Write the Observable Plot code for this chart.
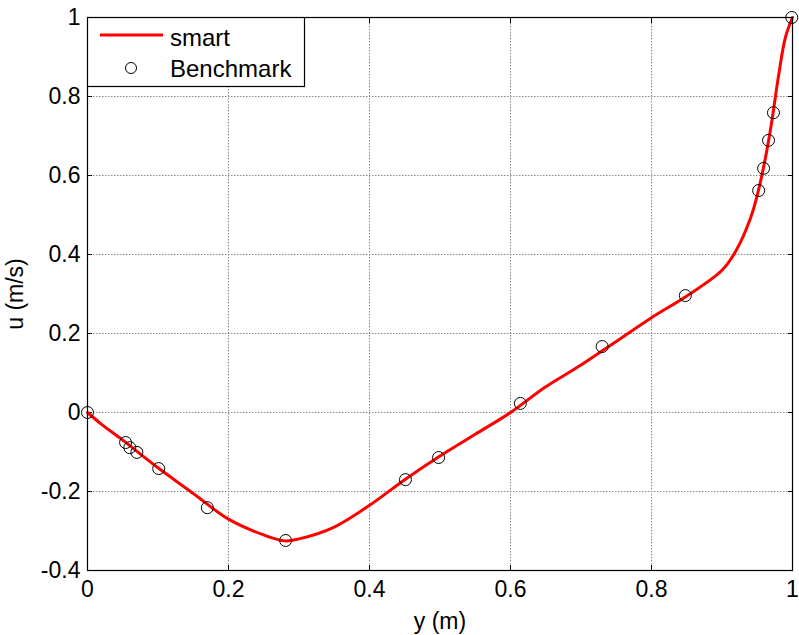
<!DOCTYPE html>
<html>
<head>
<meta charset="utf-8">
<script src="https://cdn.jsdelivr.net/npm/d3@7"></script>
<script src="https://cdn.jsdelivr.net/npm/@observablehq/plot@0.6"></script>
<style>
  html, body { margin: 0; padding: 0; background: #fff; }
  #wrap { position: relative; width: 799px; height: 635px; font-family: "Liberation Sans", Arial, sans-serif; }
  #legend { position: absolute; left: 87px; top: 17px; }
</style>
</head>
<body>
<div id="wrap"></div>
<script>
// Smart solution (red line)
const lineY = [0, 0.02, 0.05, 0.1, 0.15, 0.2, 0.25, 0.28, 0.3, 0.35, 0.4, 0.45, 0.5, 0.55, 0.6, 0.65, 0.7, 0.75, 0.8, 0.85, 0.9, 0.92, 0.94, 0.95, 0.96, 0.97, 0.98, 0.99, 1.0];
const lineU = [0, -0.03, -0.07, -0.14, -0.205, -0.27, -0.31, -0.325, -0.32, -0.29, -0.235, -0.17, -0.11, -0.055, 0.0, 0.065, 0.12, 0.18, 0.24, 0.295, 0.36, 0.41, 0.49, 0.55, 0.63, 0.73, 0.85, 0.95, 1.0];
// Benchmark (circles)
const benchY = [0, 0.054, 0.060, 0.070, 0.101, 0.170, 0.281, 0.451, 0.498, 0.614, 0.730, 0.848, 0.952, 0.959, 0.966, 0.973, 0.999];
const benchU = [0, -0.076, -0.089, -0.101, -0.142, -0.241, -0.324, -0.170, -0.114, 0.023, 0.167, 0.296, 0.562, 0.618, 0.689, 0.759, 1.0];
const xTicks = [0, 0.2, 0.4, 0.6, 0.8, 1];
const yTicks = [-0.4, -0.2, 0, 0.2, 0.4, 0.6, 0.8, 1];
const seriesNames = ["smart", "Benchmark"];

const lineData = lineY.map((y, i) => ({y, u: lineU[i]}));
const benchData = benchY.map((y, i) => ({y, u: benchU[i]}));
const fmt = d => String(+d.toFixed(1));

const chart = Plot.plot({
  width: 799,
  height: 635,
  marginLeft: 87,
  marginRight: 7,
  marginTop: 17,
  marginBottom: 65,
  style: {fontFamily: '"Liberation Sans", Arial, sans-serif', fontSize: "23px", color: "#000", background: "#fff"},
  x: {domain: [0, 1]},
  y: {domain: [-0.4, 1]},
  marks: [
    Plot.gridX(xTicks, {stroke: "#888", strokeOpacity: 1, strokeDasharray: "1.5,1.5"}),
    Plot.gridY(yTicks, {stroke: "#888", strokeOpacity: 1, strokeDasharray: "1.5,1.5"}),
    Plot.axisX(xTicks, {anchor: "bottom", tickSize: -5, tickPadding: 15, tickFormat: fmt, fontSize: 23, label: "y (m)", labelAnchor: "center", labelArrow: "none", labelOffset: 58}),
    Plot.axisX(xTicks, {anchor: "top", tickSize: -5, tickFormat: () => "", label: null}),
    Plot.axisY(yTicks, {anchor: "left", tickSize: -5, tickPadding: 12, tickFormat: fmt, fontSize: 23, label: "u (m/s)", labelAnchor: "center", labelArrow: "none", labelOffset: 81}),
    Plot.axisY(yTicks, {anchor: "right", tickSize: -5, tickFormat: () => "", label: null}),
    Plot.line(lineData, {x: "y", y: "u", stroke: "#ff0000", strokeWidth: 3, curve: "catmull-rom"}),
    Plot.dot(benchData, {x: "y", y: "u", r: 6, stroke: "#000", strokeWidth: 1, fill: "none"}),
    Plot.frame({stroke: "#000", strokeWidth: 1.2})
  ]
});
const wrap = document.getElementById("wrap");
wrap.appendChild(chart);

// Legend overlay
const ns = "http://www.w3.org/2000/svg";
const leg = document.createElementNS(ns, "svg");
leg.setAttribute("id", "legend");
leg.setAttribute("width", 219);
leg.setAttribute("height", 71);
leg.innerHTML = `
  <rect x="0.5" y="0.5" width="217" height="69" fill="#fff" stroke="#000" stroke-width="1.2"/>
  <line x1="13" y1="18" x2="76" y2="18" stroke="#ff0000" stroke-width="3"/>
  <text x="83" y="29" font-size="24" font-family="Liberation Sans, Arial, sans-serif">${seriesNames[0]}</text>
  <circle cx="44" cy="51" r="5.5" fill="none" stroke="#000" stroke-width="1"/>
  <text x="83" y="60" font-size="24" font-family="Liberation Sans, Arial, sans-serif">${seriesNames[1]}</text>
`;
wrap.appendChild(leg);
</script>
</body>
</html>
